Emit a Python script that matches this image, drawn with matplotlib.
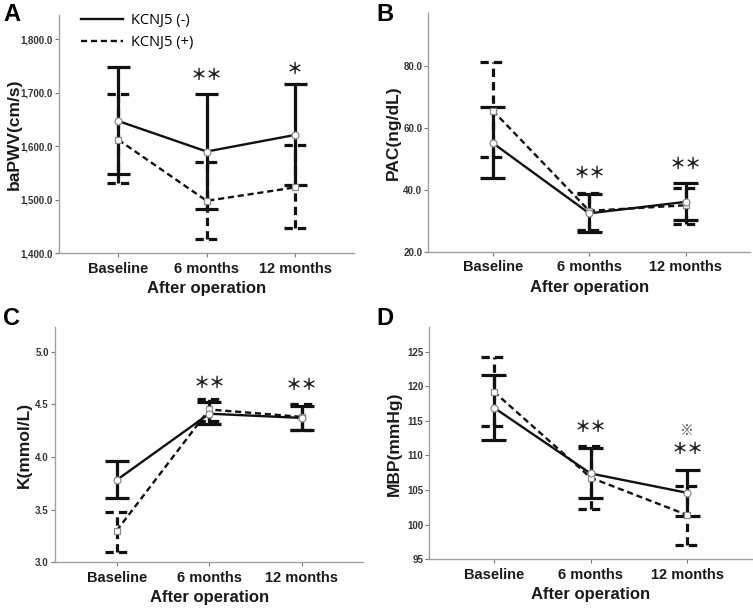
import matplotlib
matplotlib.use('Agg')
import matplotlib.pyplot as plt
from matplotlib.lines import Line2D
from matplotlib.ticker import FuncFormatter
import numpy as np

plt.rcParams['font.family'] = ['Liberation Sans', 'Noto Sans CJK JP']

months = ['Baseline', '6 months', '12 months']

# A: baPWV (cm/s)
pwv_neg_mean = [1647, 1590, 1621]
pwv_neg_lo = [1548, 1482, 1527]
pwv_neg_hi = [1748, 1697, 1716]
pwv_pos_mean = [1612, 1498, 1523]
pwv_pos_lo = [1531, 1426, 1447]
pwv_pos_hi = [1697, 1571, 1603]

# B: PAC (ng/dL)
pac_neg_mean = [55.1, 32.4, 36.1]
pac_neg_lo = [43.8, 26.3, 30.4]
pac_neg_hi = [66.6, 38.5, 42.1]
pac_pos_mean = [65.6, 33.2, 35.0]
pac_pos_lo = [50.6, 27.0, 29.0]
pac_pos_hi = [81.3, 38.9, 40.6]

# C: K (mmol/L)
k_neg_mean = [3.78, 4.41, 4.37]
k_neg_lo = [3.61, 4.31, 4.26]
k_neg_hi = [3.96, 4.52, 4.48]
k_pos_mean = [3.30, 4.45, 4.38]
k_pos_lo = [3.10, 4.34, 4.26]
k_pos_hi = [3.48, 4.55, 4.50]

# D: MBP (mmHg)
mbp_neg_mean = [116.9, 107.4, 104.6]
mbp_neg_lo = [112.2, 103.9, 101.3]
mbp_neg_hi = [121.6, 111.1, 107.9]
mbp_pos_mean = [119.2, 106.8, 101.4]
mbp_pos_lo = [114.2, 102.3, 97.1]
mbp_pos_hi = [124.2, 111.3, 105.6]

DASH = (0, (2.6, 1.6))
CAP = 0.13
INK = '#111111'


def draw_group(ax, mean, lo, hi, ls, marker):
    x = np.arange(len(mean))
    ax.plot(x, mean, color=INK, lw=1.7, linestyle=ls, zorder=3)
    ax.vlines(x, lo, hi, colors=INK, lw=2.3, linestyles=[ls], zorder=3)
    ax.hlines(lo, x - CAP, x + CAP, colors=INK, lw=2.3, linestyles=[ls], zorder=3)
    ax.hlines(hi, x - CAP, x + CAP, colors=INK, lw=2.3, linestyles=[ls], zorder=3)
    ax.plot(x, mean, linestyle='none', marker=marker, ms=5, mfc='white',
            mec='#8a8a8a', mew=0.9, zorder=4)


def setup(ax, ylabel, ylim, yticks, fmt, pad=2):
    ax.set_xlim(-2 / 3, 8 / 3)
    ax.set_ylim(*ylim)
    ax.set_xticks(range(len(months)))
    ax.set_xticklabels(months, fontsize=10.5, fontweight='bold', color='#1a1a1a')
    ax.set_yticks(yticks)
    ax.yaxis.set_major_formatter(FuncFormatter(fmt))
    for lab in ax.get_yticklabels():
        lab.set_fontsize(7)
        lab.set_fontweight('bold')
        lab.set_color('#333333')
    for s in ['top', 'right']:
        ax.spines[s].set_visible(False)
    for s in ['left', 'bottom']:
        ax.spines[s].set_color('#a0a0a0')
        ax.spines[s].set_linewidth(1.0)
    ax.tick_params(axis='both', length=3, width=0.8, color='#777777', pad=1.5)
    ax.tick_params(axis='x', pad=3)
    ax.set_ylabel(ylabel, fontsize=12.5, fontweight='bold', color='#1a1a1a', labelpad=pad)
    ax.set_xlabel('After operation', fontsize=12, fontweight='bold', color='#1a1a1a', labelpad=4)


def star(ax, x, y, s, size=11.5, color='#1a1a1a', weight='bold'):
    ax.text(x, y, s, ha='center', va='center', fontsize=size, color=color,
            fontweight=weight, family=['Noto Sans CJK JP', 'DejaVu Sans'], zorder=5)


fig = plt.figure(figsize=(7.53, 6.08), dpi=100)

axA = fig.add_axes([0.0788, 0.5834, 0.3913, 0.392])
axB = fig.add_axes([0.569, 0.586, 0.427, 0.3926])
axC = fig.add_axes([0.073, 0.0752, 0.4096, 0.3865])
axD = fig.add_axes([0.5703, 0.080, 0.428, 0.3817])

draw_group(axA, pwv_pos_mean, pwv_pos_lo, pwv_pos_hi, DASH, 's')
draw_group(axA, pwv_neg_mean, pwv_neg_lo, pwv_neg_hi, '-', 'o')
setup(axA, 'baPWV(cm/s)', (1400, 1845), np.arange(1400, 1801, 100),
      lambda v, p: '{:,.1f}'.format(v), pad=-1)
star(axA, 1, 1733, '＊＊')
star(axA, 2, 1745, '＊')

draw_group(axB, pac_pos_mean, pac_pos_lo, pac_pos_hi, DASH, 's')
draw_group(axB, pac_neg_mean, pac_neg_lo, pac_neg_hi, '-', 'o')
setup(axB, 'PAC(ng/dL)', (20, 97.1), [20, 40, 60, 80],
      lambda v, p: '{:.1f}'.format(v))
star(axB, 1, 45.3, '＊＊')
star(axB, 2, 48.3, '＊＊')

draw_group(axC, k_pos_mean, k_pos_lo, k_pos_hi, DASH, 's')
draw_group(axC, k_neg_mean, k_neg_lo, k_neg_hi, '-', 'o')
setup(axC, 'K(mmol/L)', (3.0, 5.23), [3.0, 3.5, 4.0, 4.5, 5.0],
      lambda v, p: '{:.1f}'.format(v))
star(axC, 1, 4.70, '＊＊')
star(axC, 2, 4.68, '＊＊')

draw_group(axD, mbp_pos_mean, mbp_pos_lo, mbp_pos_hi, DASH, 's')
draw_group(axD, mbp_neg_mean, mbp_neg_lo, mbp_neg_hi, '-', 'o')
setup(axD, 'MBP(mmHg)', (95, 128.5), [95, 100, 105, 110, 115, 120, 125],
      lambda v, p: '{:.0f}'.format(v), pad=4)
star(axD, 1, 114.1, '＊＊')
star(axD, 2, 110.9, '＊＊')
star(axD, 2, 113.6, '※', size=10, color='#555555', weight='normal')

# legend in panel A
handles = [Line2D([], [], color=INK, lw=1.7, linestyle='-'),
           Line2D([], [], color=INK, lw=1.7, linestyle=DASH)]
fig.legend(handles, ['KCNJ5 (-)', 'KCNJ5 (+)'], loc='upper left',
           bbox_to_anchor=(0.09, 1.0), frameon=False, handlelength=2.9,
           handletextpad=0.55, labelspacing=0.45,
           prop={'family': 'Open Sans', 'size': 10.5})

for lbl, x, y in [('A', 0.004, 0.995), ('B', 0.5, 0.995),
                  ('C', 0.004, 0.495), ('D', 0.5, 0.495)]:
    fig.text(x, y, lbl, fontsize=17, fontweight='bold', va='top', ha='left')

fig.savefig('out.png', dpi=100)
